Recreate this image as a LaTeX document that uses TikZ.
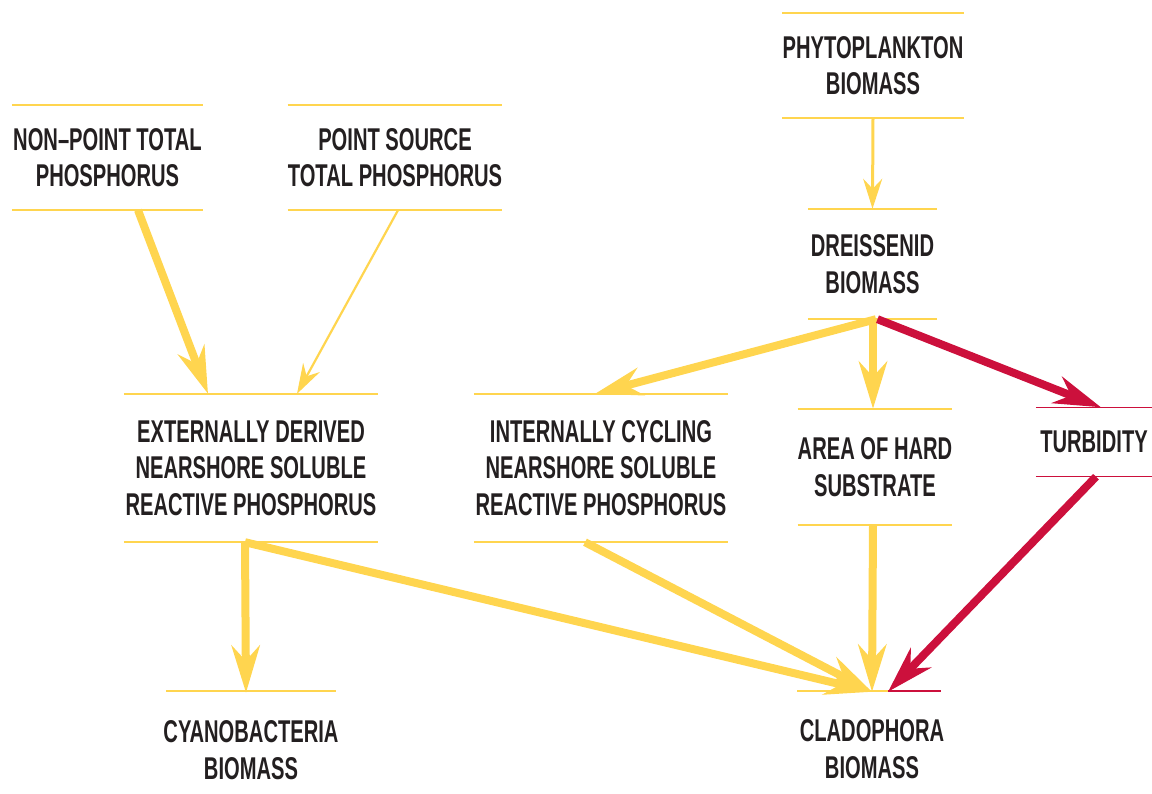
\documentclass[tikz,border=0pt]{standalone}
\usepackage{fontspec}
\setmainfont[FakeStretch=0.64]{Liberation Sans}
\usetikzlibrary{arrows.meta}
\definecolor{ylw}{RGB}{255,213,79}
\definecolor{crim}{RGB}{204,16,60}
\definecolor{txt}{RGB}{35,31,32}
\begin{document}
\begin{tikzpicture}[x=1pt,y=-1pt,
  lbl/.style={inner sep=0pt, align=center, text=txt, font=\bfseries\fontsize{31.5}{36.5}\selectfont},
  rule/.style={line width=1.5pt},
  bigarrow/.style={line width=8pt, -{Stealth[length=47pt,width=28pt,inset=15pt]}},
  thinarrow/.style={-{Stealth[length=30pt,width=19pt,inset=10pt]}},
]
\useasboundingbox (0,0) rectangle (1152,794);

% nodes
\node[lbl, minimum width=191pt, minimum height=105pt] (np) at (107.5,157.5) {NON--POINT TOTAL\\PHOSPHORUS};
\node[lbl, minimum width=214pt, minimum height=105pt] (ps) at (395,157.5) {POINT SOURCE\\TOTAL PHOSPHORUS};
\node[lbl, minimum width=180pt, minimum height=105pt] (phy) at (873,65.5) {PHYTOPLANKTON\\BIOMASS};
\node[lbl, minimum width=129pt, minimum height=110pt] (dre) at (872.5,264) {DREISSENID\\BIOMASS};
\node[lbl, minimum width=254pt, minimum height=148pt] (ext) at (251,468) {EXTERNALLY DERIVED\\NEARSHORE SOLUBLE\\REACTIVE PHOSPHORUS};
\node[lbl, minimum width=254pt, minimum height=148pt] (int) at (601,468) {INTERNALLY CYCLING\\NEARSHORE SOLUBLE\\REACTIVE PHOSPHORUS};
\node[lbl, minimum width=138pt, minimum height=116pt] (area) at (875,467) {AREA OF HARD\\SUBSTRATE};
\node[lbl, minimum width=116pt, minimum height=69pt] (turb) at (1094,442) {TURBIDITY};
\node[lbl, minimum width=170pt, minimum height=116pt] (cya) at (251,750) {CYANOBACTERIA\\BIOMASS};
\node[lbl, minimum width=144pt, minimum height=116pt] (cla) at (872,749) {CLADOPHORA\\BIOMASS};

% rules
\foreach \n in {np,ps,phy,dre,ext,int,area}{
  \draw[rule, ylw] (\n.north west) -- (\n.north east);
  \draw[rule, ylw] (\n.south west) -- (\n.south east);
}
\draw[rule, crim] (turb.north west) -- (turb.north east);
\draw[rule, crim] (turb.south west) -- (turb.south east);
\draw[rule, ylw] ([xshift=-85pt, yshift=1pt]cya.north) -- ([xshift=85pt, yshift=1pt]cya.north);
\draw[rule, ylw] ([xshift=-75pt]cla.north) -- ([xshift=16pt]cla.north);
\draw[rule, crim] ([xshift=16pt]cla.north) -- ([xshift=69pt]cla.north);

% connectors
\draw[bigarrow, ylw] ([xshift=30.5pt]np.south) -- ([xshift=-43pt]ext.north);
\draw[thinarrow, ylw, line width=2.2pt] ([xshift=3pt]ps.south) -- ([xshift=46pt]ext.north);
\draw[thinarrow, ylw, line width=3pt] (phy.south) -- (dre.north);
\draw[bigarrow, ylw] ([xshift=3.5pt]dre.south) -- ([xshift=-6pt]int.north);
\draw[bigarrow, ylw] ([xshift=0.5pt]dre.south) -- ([xshift=-2pt]area.north);
\draw[bigarrow, crim] ([xshift=5pt]dre.south) -- ([xshift=7pt]turb.north);
\draw[bigarrow, ylw] ([xshift=-6pt]ext.south) -- ([xshift=-5pt, yshift=-1pt]cya.north);
\draw[bigarrow, ylw] ([xshift=-6pt]ext.south) -- ([yshift=-1pt]cla.north);
\draw[bigarrow, ylw] ([xshift=-16pt]int.south) -- ([yshift=-1pt]cla.north);
\draw[bigarrow, ylw] ([xshift=-2pt]area.south) -- ([yshift=-1pt]cla.north);
\draw[bigarrow, crim] ([xshift=2pt]turb.south) -- ([xshift=16pt, yshift=-1pt]cla.north);
\end{tikzpicture}
\end{document}
